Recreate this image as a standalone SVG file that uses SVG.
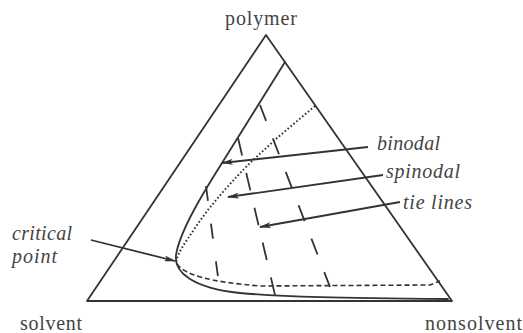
<svg xmlns="http://www.w3.org/2000/svg" width="523" height="333" viewBox="0 0 523 333">
<style>
.ln{fill:none;stroke:#333;stroke-width:1.8;stroke-linecap:round;stroke-linejoin:round}
.tie{fill:none;stroke:#333;stroke-width:1.8}
.dot{fill:none;stroke:#333;stroke-width:2;stroke-dasharray:1.6 2.2}
.dsh{fill:none;stroke:#333;stroke-width:1.6;stroke-dasharray:5 3}
.arr{fill:none;stroke:#333;stroke-width:1.8;marker-end:url(#ah)}
.up{font-family:"Liberation Serif",serif;font-size:20px;fill:#444}
.it{font-family:"Liberation Serif",serif;font-style:italic;font-size:20px;fill:#444}
</style>
<defs>
<marker id="ah" viewBox="0 0 12 6" refX="11" refY="3" markerWidth="12" markerHeight="6" orient="auto" markerUnits="userSpaceOnUse">
<path d="M0,0 L12,3 L0,6 L3,3 z" fill="#333"/>
</marker>
</defs>
<rect width="523" height="333" fill="#fff"/>
<g id="triangle">
<path class="ln" d="M266,35 L452,301 L87,301 Z"/>
</g>
<g id="binodal-curve">
<path class="ln" d="M285,62 L222,163 C205,190 180,230 176,255 C174,272 192,288 240,293 C285,297 340,298 448,299"/>
</g>
<g id="spinodal-curve">
<path class="dot" d="M315,106 L277,138 L250,163 C235,178 210,205 195,228 C185,243 178,252 176,262"/>
<path class="dsh" d="M177,264 C185,275 210,282 260,286 L430,285 L440,281"/>
</g>
<g id="tie-lines">
<line class="tie" x1="260" y1="105" x2="330" y2="287" stroke-dasharray="17 18.8"/>
<line class="tie" x1="238" y1="138" x2="275" y2="295" stroke-dasharray="18 17.8"/>
<line class="tie" x1="206" y1="186" x2="218" y2="277" stroke-dasharray="15 23"/>
</g>
<g id="connectors">
<line class="arr" x1="368" y1="147" x2="222" y2="163"/>
<line class="arr" x1="383" y1="175" x2="228" y2="197"/>
<line class="arr" x1="400" y1="202" x2="260" y2="227"/>
<line class="arr" x1="91" y1="240" x2="175" y2="261"/>
</g>
<g id="labels">
<text class="up" x="225" y="25" textLength="72">polymer</text>
<text class="up" x="20" y="330" textLength="62">solvent</text>
<text class="up" x="425" y="330" textLength="97">nonsolvent</text>
<text class="it" x="377" y="150" textLength="63">binodal</text>
<text class="it" x="386" y="178" textLength="74">spinodal</text>
<text class="it" x="403" y="209" textLength="69">tie lines</text>
<text class="it" x="12" y="240" textLength="60">critical</text>
<text class="it" x="12" y="263" textLength="45">point</text>
</g>
</svg>
